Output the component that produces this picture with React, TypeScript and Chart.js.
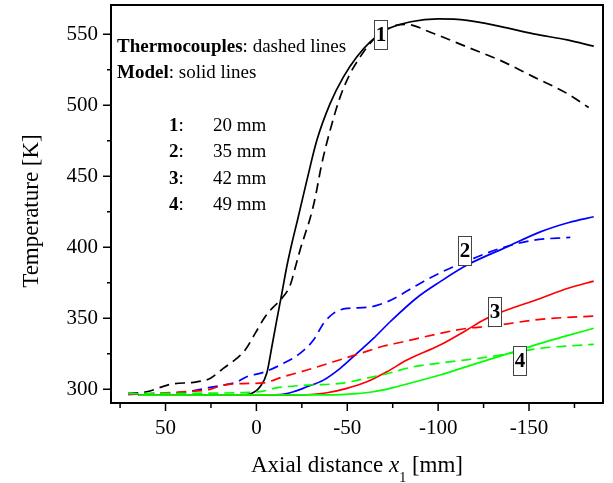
import React, { useEffect, useRef } from 'react';
import { Chart, registerables } from 'chart.js';

Chart.register(...registerables);

const SERIF = "'Liberation Serif', 'Times New Roman', serif";

// Axis ranges / ticks
const X_MIN = -190.7;
const X_MAX = 80;
const Y_MIN = 290.4;
const Y_MAX = 570.6;
const X_MAJOR = [50, 0, -50, -100, -150];
const X_MINOR = [75, 25, -25, -75, -125, -175];
const Y_MAJOR = [300, 350, 400, 450, 500, 550];
const Y_MINOR = [325, 375, 425, 475, 525];

// 1: 20 mm — model (solid) and thermocouple (dashed)
const S1_X = [65, 40, 20, 8, 3.5, -2, -5.7, -8.5, -11.2, -14, -16.7, -19.5, -22.6, -27.8, -33.3, -40.6, -47.9, -55.3, -62.6, -72, -85, -100, -116, -134, -152.5, -171, -185.6];
const S1_Y = [296, 296, 296, 296.1, 296.7, 301.8, 311.3, 330, 348.8, 367.6, 386.3, 402.7, 419.1, 447.3, 475.5, 501.3, 520, 534.1, 544.6, 553.5, 558.8, 560.8, 559.8, 555.6, 550.3, 546, 541.6];
const D1_X = [70.5, 60.4, 47.5, 32.8, 25.5, 18.2, 10.8, 6.2, 0.7, -4.8, -9.4, -14, -18.6, -21.3, -24, -26.8, -29.6, -32.3, -36, -40.6, -46.1, -51.6, -57.1, -61.7, -68, -75, -82, -97.5, -116, -134, -152.5, -171, -182.8];
const D1_Y = [297.2, 298.3, 303.5, 305.3, 307.7, 314.8, 321.8, 327.7, 339.4, 351.1, 358.1, 364, 373.4, 385.4, 398, 409.3, 420.6, 434.6, 459, 482.5, 505.9, 522.4, 534.1, 542.3, 550.5, 555.5, 557, 550.5, 541, 531.7, 520, 508.3, 498.4];

// 2: 35 mm
const S2_X = [65, 0, -13, -20.4, -27.8, -36.9, -46.1, -55.3, -64.4, -73.6, -88.3, -101, -115.9, -137.9, -156.2, -172, -185.6];
const S2_Y = [296, 296, 296.3, 298.3, 301.8, 306.5, 314.8, 325.3, 335.9, 347.6, 364.5, 375.7, 387.5, 400.3, 410.9, 417.5, 421.5];
const D2_X = [70.5, 55, 40.2, 32.8, 25.5, 10.8, 5.3, -3.9, -14.9, -24, -31.4, -36.9, -42.4, -49.8, -60.8, -71.8, -90, -101, -119.5, -134, -152.5, -172.7];
const D2_Y = [296.5, 297, 297.9, 299.5, 301.4, 305.3, 308.9, 312, 318.3, 325.3, 334.7, 346.4, 353.5, 357, 357.7, 361.6, 374.6, 382, 392.2, 399.2, 405, 407];

// 3: 42 mm
const S3_X = [65, -20, -30, -38.8, -49.8, -60.8, -71.8, -82.8, -101, -116, -125, -134, -156.2, -171, -185.6];
const S3_Y = [296, 296, 296.4, 297.6, 300.7, 305.3, 312.4, 320.6, 331.2, 342, 348.8, 354, 364, 371, 376.2];
const D3_X = [70.5, 54.8, 40.2, 25.5, 18.2, 3.5, -3.9, -14.9, -27.8, -42.4, -57.1, -70, -79, -101, -116, -128.7, -156.2, -185.6];
const D3_Y = [296.5, 297.2, 298.3, 300, 303, 304.2, 304.6, 308.9, 313.6, 319.4, 325.3, 330.5, 333, 339.4, 343, 344.5, 349.3, 351.6];

// 4: 49 mm
const S4_X = [65, -40, -55, -64.4, -73.6, -85, -101, -119.5, -140.6, -156.2, -171, -185.6];
const S4_Y = [296, 296.1, 297, 298.3, 300.7, 304.5, 310.1, 317.6, 326, 332.4, 337.8, 343];
const D4_X = [70.5, 40, 20, 10.8, -3.9, -9.4, -27.8, -46.1, -64.4, -71.8, -85, -101, -128.7, -156.2, -185.6];
const D4_Y = [297, 297.2, 297.4, 297.6, 298.8, 300.7, 303, 304.2, 308.9, 311, 315.5, 318.5, 323, 328.9, 331.7];

// Curve labels
const BOX_TEXT = ['1', '2', '3', '4'];
const BOX_X = [-68.6, -114.5, -131.4, -144.8];
const BOX_Y = [549.3, 397.3, 354.6, 319.9];

// Legend text
const KEY_NUM = ['1', '2', '3', '4'];
const KEY_DIST = ['20 mm', '35 mm', '42 mm', '49 mm'];

const COLORS = ['#000000', '#0000ff', '#ff0000', '#00ff00'];

function pts(xs: number[], ys: number[]) {
  return xs.map((x, i) => ({ x, y: ys[i] }));
}

function drawRich(ctx: CanvasRenderingContext2D, parts: [string, string][], x: number, y: number) {
  let cx = x;
  for (const [font, text] of parts) {
    ctx.font = font;
    ctx.fillText(text, cx, y);
    cx += ctx.measureText(text).width;
  }
}

const decor = {
  id: 'decor',
  afterDatasetsDraw(chart: any) {
    const { ctx, chartArea: a, scales } = chart;
    const xs = scales.x;
    const ys = scales.y;
    ctx.save();
    // boxed curve labels
    BOX_TEXT.forEach((t, i) => {
      const px = Math.round(xs.getPixelForValue(BOX_X[i]));
      const py = Math.round(ys.getPixelForValue(BOX_Y[i]));
      ctx.fillStyle = '#ffffff';
      ctx.fillRect(px - 7, py - 15, 14, 30);
      ctx.strokeStyle = '#444444';
      ctx.lineWidth = 1;
      ctx.strokeRect(px - 6.5, py - 14.5, 13, 29);
      ctx.fillStyle = '#000';
      ctx.font = `bold 21px ${SERIF}`;
      ctx.textAlign = 'center';
      ctx.textBaseline = 'middle';
      ctx.fillText(t, px, py + 1);
    });

    // frame
    ctx.strokeStyle = '#000';
    ctx.lineWidth = 2;
    ctx.strokeRect(a.left, a.top, a.right - a.left, a.bottom - a.top);

    // tick marks (outward)
    ctx.lineWidth = 1.5;
    ctx.beginPath();
    X_MAJOR.forEach((v) => { const p = xs.getPixelForValue(v); ctx.moveTo(p, a.bottom); ctx.lineTo(p, a.bottom + 8); });
    X_MINOR.forEach((v) => { const p = xs.getPixelForValue(v); ctx.moveTo(p, a.bottom); ctx.lineTo(p, a.bottom + 5); });
    Y_MAJOR.forEach((v) => { const p = ys.getPixelForValue(v); ctx.moveTo(a.left, p); ctx.lineTo(a.left - 8, p); });
    Y_MINOR.forEach((v) => { const p = ys.getPixelForValue(v); ctx.moveTo(a.left, p); ctx.lineTo(a.left - 4, p); });
    ctx.stroke();

    // legend text
    ctx.fillStyle = '#000';
    ctx.textAlign = 'left';
    ctx.textBaseline = 'alphabetic';
    const L = a.left;
    const T = a.top;
    drawRich(ctx, [[`bold 19px ${SERIF}`, 'Thermocouples'], [`19px ${SERIF}`, ': dashed lines']], L + 6, T + 47);
    drawRich(ctx, [[`bold 19px ${SERIF}`, 'Model'], [`19px ${SERIF}`, ': solid lines']], L + 6, T + 73);
    KEY_NUM.forEach((n, i) => {
      const by = T + 126 + i * 26.4;
      drawRich(ctx, [[`bold 19px ${SERIF}`, n], [`19px ${SERIF}`, ':']], L + 58, by);
      ctx.font = `19px ${SERIF}`;
      ctx.fillText(KEY_DIST[i], L + 102, by);
    });

    // x title
    const parts: [string, string, number][] = [
      [`23px ${SERIF}`, 'Axial distance ', 0],
      [`italic 23px ${SERIF}`, 'x', 0],
      [`14px ${SERIF}`, '1', 10],
      [`23px ${SERIF}`, ' [mm]', 0],
    ];
    let total = 0;
    parts.forEach(([f, t]) => { ctx.font = f; total += ctx.measureText(t).width; });
    let cx = (a.left + a.right) / 2 - total / 2;
    parts.forEach(([f, t, dy]) => {
      ctx.font = f;
      ctx.fillText(t, cx, 471.5 + dy);
      cx += ctx.measureText(t).width;
    });

    // y title
    ctx.translate(38, 211);
    ctx.rotate(-Math.PI / 2);
    ctx.textAlign = 'center';
    ctx.font = `23px ${SERIF}`;
    ctx.fillText('Temperature [K]', 0, 0);
    ctx.restore();
  },
};

export default function App() {
  const ref = useRef<HTMLCanvasElement | null>(null);
  useEffect(() => {
    if (!ref.current) return;
    const solid = [pts(S1_X, S1_Y), pts(S2_X, S2_Y), pts(S3_X, S3_Y), pts(S4_X, S4_Y)];
    const dashed = [pts(D1_X, D1_Y), pts(D2_X, D2_Y), pts(D3_X, D3_Y), pts(D4_X, D4_Y)];
    const datasets: any[] = [];
    [3, 2, 1, 0].forEach((i) => {
      datasets.push({
        label: `D${i + 1}`, data: dashed[i], borderColor: COLORS[i], borderWidth: 1.7,
        borderDash: [10, 6], pointRadius: 0, cubicInterpolationMode: 'monotone', fill: false,
      });
      datasets.push({
        label: `S${i + 1}`, data: solid[i], borderColor: COLORS[i], borderWidth: 1.7,
        pointRadius: 0, cubicInterpolationMode: 'monotone', fill: false,
      });
    });
    const tickFont = { family: SERIF, size: 21 };
    const chart = new Chart(ref.current, {
      type: 'line',
      data: { datasets },
      options: {
        animation: false,
        responsive: false,
        events: [],
        layout: { padding: { left: 0, right: 10, top: 5, bottom: 0 } },
        plugins: { legend: { display: false }, tooltip: { enabled: false } },
        scales: {
          x: {
            type: 'linear', reverse: true, min: X_MIN, max: X_MAX,
            grid: { display: false, drawTicks: false },
            border: { display: false },
            ticks: {
              stepSize: 50, includeBounds: false, color: '#000', font: tickFont, padding: 13,
              maxRotation: 0, callback: (v: any) => String(v),
            },
            afterFit: (s: any) => { s.height = 80; s.paddingLeft = 0; s.paddingRight = 0; },
          },
          y: {
            type: 'linear', min: Y_MIN, max: Y_MAX,
            grid: { display: false, drawTicks: false },
            border: { display: false },
            ticks: {
              stepSize: 50, includeBounds: false, color: '#000', font: tickFont, padding: 13,
              callback: (v: any) => String(v),
            },
            afterFit: (s: any) => { s.width = 111; s.paddingTop = 0; s.paddingBottom = 0; },
          },
        },
      },
      plugins: [decor],
    } as any);
    return () => chart.destroy();
  }, []);
  return (
    <div style={{ position: 'absolute', left: 0, top: 0, width: 613, height: 483, background: '#fff' }}>
      <canvas ref={ref} width={613} height={483} style={{ display: 'block' }} />
    </div>
  );
}
